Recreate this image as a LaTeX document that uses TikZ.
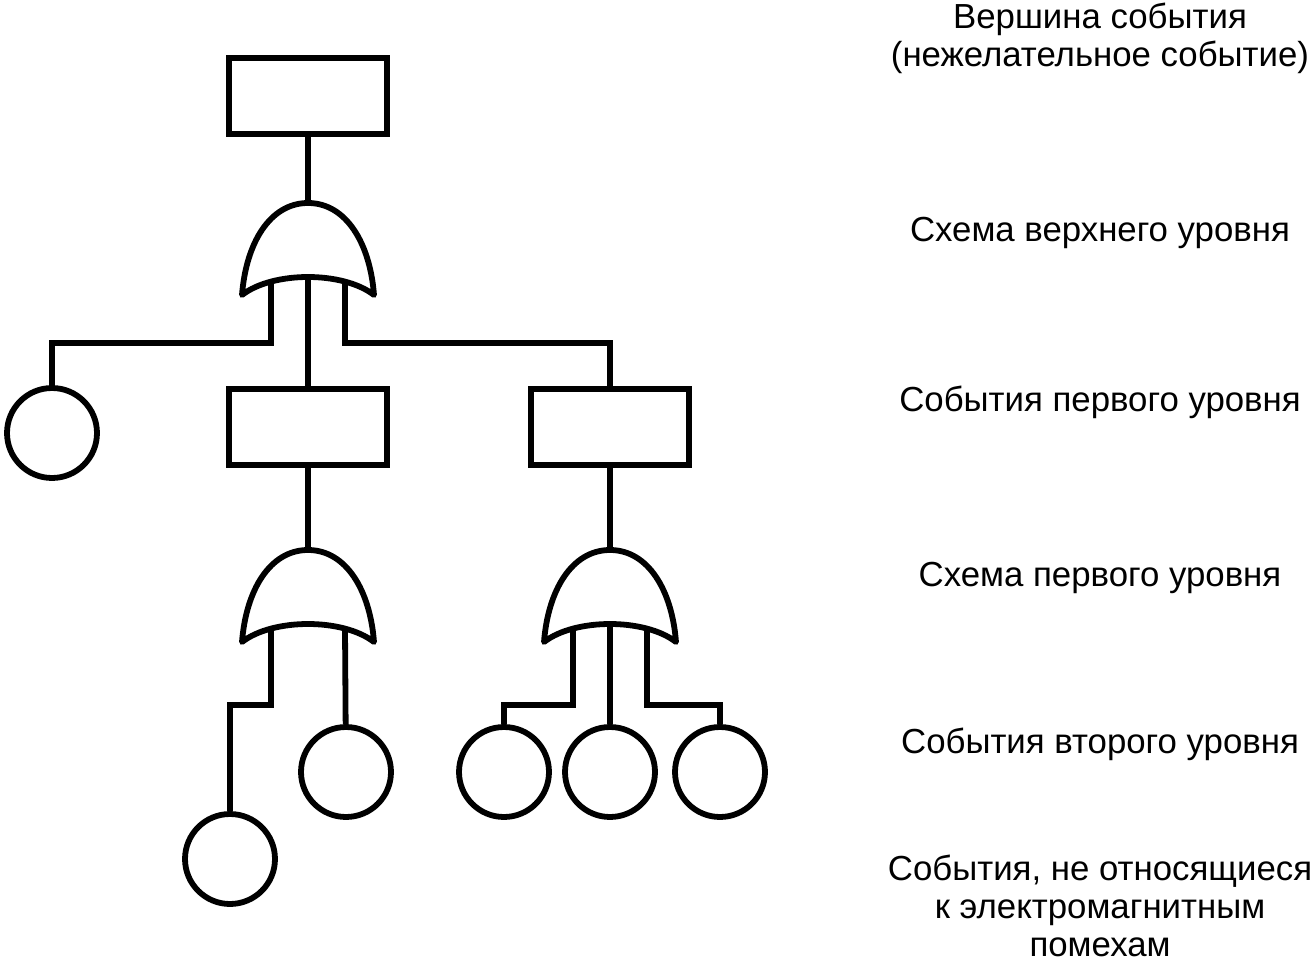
\documentclass[tikz,border=0pt]{standalone}
\usepackage{fontspec}
\setmainfont{Liberation Sans}
\tikzset{
  wire/.style={line width=3.3pt},
  evbox/.style={draw,line width=3.3pt,minimum width=3.16cm,minimum height=1.52cm,inner sep=0pt},
  evcirc/.style={draw,circle,line width=3.3pt,minimum size=1.8cm,inner sep=0pt},
  lbl/.style={align=center,inner sep=0pt,font=\fontsize{19.8}{21.8}\selectfont},
  orgate/.pic={
    \draw[wire,line join=round] (-66,92) .. controls (-62,40) and (-38,0) .. (0,0)
      .. controls (38,0) and (62,40) .. (66,92)
      .. controls (35,68) and (-35,68) .. cycle;
    \coordinate (-top) at (0,0);
    \coordinate (-left) at (-37,79);
    \coordinate (-mid) at (0,74);
    \coordinate (-right) at (37,79);
  }
}
\begin{document}
\begin{tikzpicture}[x=0.02cm,y=-0.02cm]
\useasboundingbox (0,0) rectangle (1315,966);
\node[evbox] (topev) at (308,96) {};
\node[evbox] (boxa) at (308,427) {};
\node[evbox] (boxb) at (610,427) {};
\node[evcirc] (cira) at (52,433) {};
\node[evcirc] (cirb) at (230,859) {};
\node[evcirc] (circ) at (346,772) {};
\node[evcirc] (cird) at (504,772) {};
\node[evcirc] (cire) at (610,772) {};
\node[evcirc] (cirf) at (720,772) {};
\pic (ga) at (308,203) {orgate};
\pic (gb) at (308,550) {orgate};
\pic (gc) at (610,550) {orgate};
\coordinate (ja) at (52,343);
\coordinate (jb) at (610,343);
\coordinate (jc) at (230,705);
\coordinate (jd) at (504,705);
\coordinate (je) at (720,705);
\draw[wire]
(topev) -- (ga-top)
(ga-mid) -- (boxa)
(boxa) -- (gb-top)
(boxb) -- (gc-top)
(gb-right) -- (circ)
(gc-mid) -- (cire)
(ga-left) |- (ja) -- (cira)
(ga-right) |- (jb) -- (boxb)
(gb-left) |- (jc) -- (cirb)
(gc-left) |- (jd) -- (cird)
(gc-right) |- (je) -- (cirf);
\node[lbl] (lbla) at (1100,38) {Вершина события\\(нежелательное событие)};
\node[lbl] (lblb) at (1100,233) {Схема верхнего уровня};
\node[lbl] (lblc) at (1100,402) {События первого уровня};
\node[lbl] (lbld) at (1100,578) {Схема первого уровня};
\node[lbl] (lble) at (1100,744) {События второго уровня};
\node[lbl] (lblf) at (1100,906) {События, не относящиеся\\к электромагнитным\\помехам};
\end{tikzpicture}
\end{document}
